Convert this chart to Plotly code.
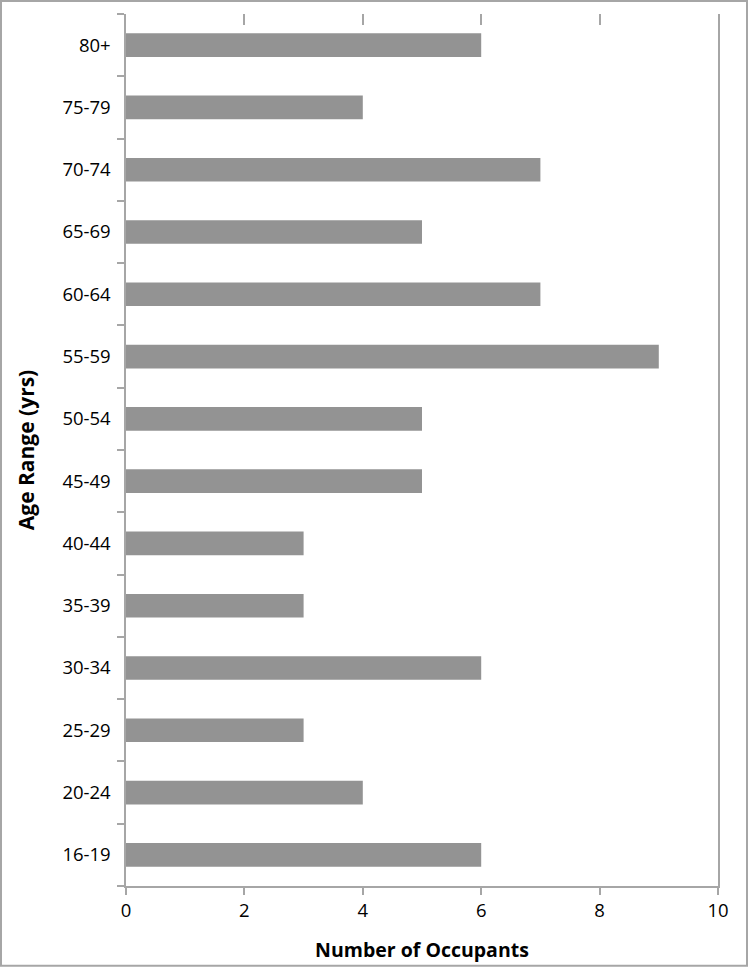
import plotly.graph_objects as go

"""DATA"""
age_ranges = ["16-19", "20-24", "25-29", "30-34", "35-39", "40-44", "45-49",
              "50-54", "55-59", "60-64", "65-69", "70-74", "75-79", "80+"]
occupants = [6, 4, 3, 6, 3, 3, 5, 5, 9, 7, 5, 7, 4, 6]
x_ticks = [0, 2, 4, 6, 8, 10]

W, H = 749, 970
ML, MR, MT, MB = 126, 31, 14, 82
pw, ph = W - ML - MR, H - MT - MB

axis_grey = "#a6a6a6"
font = "'Open Sans', 'Noto Sans', sans-serif"

"""CHART"""
fig = go.Figure()
fig.add_trace(go.Bar(
    x=occupants, y=age_ranges, orientation="h",
    marker=dict(color="#939393", line=dict(width=0)),
))
# invisible trace so the top (tick-only) axis gets drawn
fig.add_trace(go.Scatter(x=[None], y=[None], xaxis="x2", showlegend=False))

fig.update_layout(
    width=W, height=H,
    margin=dict(l=ML, r=MR, t=MT, b=MB),
    plot_bgcolor="white", paper_bgcolor="white",
    showlegend=False,
    bargap=0.62,
    font=dict(family=font, size=18.5, color="black"),
    xaxis=dict(
        range=[0, 10], tickvals=x_ticks, showgrid=False, zeroline=False,
        showline=True, linecolor=axis_grey, linewidth=2,
        ticks="outside", ticklen=7, tickwidth=2, tickcolor=axis_grey,
        title=dict(text="<b>Number of Occupants</b>", font=dict(size=19.5), standoff=22),
    ),
    xaxis2=dict(
        range=[0, 10], tickvals=x_ticks[1:-1], overlaying="x", side="top",
        showline=False, showgrid=False, zeroline=False, showticklabels=False,
        ticks="inside", ticklen=11, tickwidth=2, tickcolor=axis_grey,
    ),
    yaxis=dict(
        showgrid=False, zeroline=False,
        showline=True, mirror=True, linecolor=axis_grey, linewidth=2,
        ticks="outside", tickson="boundaries", ticklen=7, tickwidth=2, tickcolor=axis_grey,
        ticksuffix="  ",
        title=dict(text="<b>Age Range (yrs)</b>", font=dict(size=21), standoff=22),
    ),
)

# outer chart border
fig.add_shape(type="rect", xref="paper", yref="paper",
              x0=(1 - ML) / pw, x1=(W - 2 - ML) / pw,
              y0=-(H - 2 - (MT + ph)) / ph, y1=(MT + ph - 1) / ph,
              line=dict(color=axis_grey, width=2), layer="below")

fig.write_html("out.html", config={"displayModeBar": False},
               post_script="document.body.style.margin='0';")
